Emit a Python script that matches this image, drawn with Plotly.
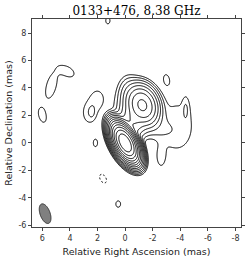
import numpy as np
import plotly.graph_objects as go

title_text = "0133+476, 8.38 GHz"
x_label = "Relative Right Ascension (mas)"
y_label = "Relative Declination (mas)"

x_tick_vals = [6, 4, 2, 0, -2, -4, -6, -8]
x_tick_text = ["6", "4", "2", "0", "-2", "-4", "-6", "-8"]
y_tick_vals = [8, 6, 4, 2, 0, -2, -4, -6]
y_tick_text = ["8", "6", "4", "2", "0", "-2", "-4", "-6"]

# Brightness model components (relative to the lowest contour level)
comp_x = [0.0, -1.25, -0.5, -0.6, -2.0, -0.2, -3.8, -4.4, 2.6, 2.0, 2.4, -2.6, 5.35, 4.2, 6.0, -3.0, 2.15, 0.5, 1.25, 1.6]
comp_y = [0.0, 2.75, 1.5, 2.7, 1.3, 3.9, 1.2, 2.5, 2.2, 3.2, 2.2, -1.0, 4.15, 5.2, 2.0, 4.6, 0.0, -4.45, 8.9, -2.6]
comp_peak = [8000, 150, 25, 4.0, 2.0, 2.5, 1.6, 1.4, 1.6, 1.5, 1.0, 1.5, 1.7, 1.6, 1.5, 1.5, 1.5, 1.5, 1.5, -1.5]
comp_maj = [1.45, 1.6, 1.4, 2.0, 2.2, 1.5, 3.6, 1.4, 1.6, 1.4, 0.7, 1.4, 2.1, 1.3, 1.3, 0.9, 0.7, 0.6, 0.6, 0.9]
comp_min = [0.72, 1.2, 0.9, 1.8, 1.4, 1.0, 2.4, 0.4, 1.0, 1.0, 0.4, 0.6, 0.8, 0.8, 0.65, 0.5, 0.4, 0.45, 0.4, 0.55]
comp_pa = [28, 20, 30, 10, 60, 0, 0, 0, 0, 0, 0, 0, -15, 60, 15, 10, 0, 0, 0, 30]

# Contour levels: lowest level x 2^n
n_levels = 14

# Restoring beam
beam_x, beam_y = 5.8, -5.15
beam_maj, beam_min, beam_pa = 1.5, 0.72, 20

xs = np.linspace(7.0, -8.6, 320)
ys = np.linspace(-6.3, 9.3, 320)
X, Y = np.meshgrid(xs, ys)
img = np.zeros_like(X)
for cx, cy, pk, mj, mn, pa in zip(comp_x, comp_y, comp_peak, comp_maj, comp_min, comp_pa):
    t = np.radians(pa)
    dx, dy = X - cx, Y - cy
    u = dx * np.sin(t) + dy * np.cos(t)
    v = dx * np.cos(t) - dy * np.sin(t)
    img += pk * np.exp(-4 * np.log(2) * (u**2 / mj**2 + v**2 / mn**2))

zpos = np.log2(np.clip(img, 1e-6, None))
zneg = np.log2(np.clip(-img, 1e-6, None))

black = [[0, "black"], [1, "black"]]
fig = go.Figure()
fig.add_trace(go.Contour(
    x=xs, y=ys, z=zpos, showscale=False, colorscale=black,
    contours=dict(coloring="lines", start=0, end=n_levels - 1, size=1),
    line=dict(width=1, color="black"), hoverinfo="skip"))
fig.add_trace(go.Contour(
    x=xs, y=ys, z=zneg, showscale=False, colorscale=black,
    contours=dict(coloring="lines", start=0, end=0.5, size=1),
    line=dict(width=1, color="black", dash="2px,2px"), hoverinfo="skip"))

th = np.linspace(0, 2 * np.pi, 80)
pa = np.radians(beam_pa)
a, b = beam_maj / 2, beam_min / 2
u, v = a * np.cos(th), b * np.sin(th)
ex = beam_x + u * np.sin(pa) + v * np.cos(pa)
ey = beam_y + u * np.cos(pa) - v * np.sin(pa)
path = "M " + " L ".join(f"{px:.4f},{py:.4f}" for px, py in zip(ex, ey)) + " Z"
fig.add_shape(type="path", path=path, xref="x", yref="y",
              fillcolor="#808080", line=dict(color="#333333", width=1))

axis_common = dict(showgrid=False, zeroline=False, showline=True, linecolor="#444444",
                   linewidth=1, mirror="ticks", ticks="outside", ticklen=3, automargin=False,
                   tickcolor="#444444", tickfont=dict(family="DejaVu Sans", size=8, color="#333333"))
fig.update_xaxes(range=[6.75, -8.4], tickvals=x_tick_vals, ticktext=x_tick_text,
                 title=dict(text=x_label, font=dict(family="DejaVu Sans", size=9.5, color="#222222"), standoff=6),
                 **axis_common)
fig.update_yaxes(range=[-6.12, 9.02], tickvals=y_tick_vals, ticktext=y_tick_text,
                 title=dict(text=y_label, font=dict(family="DejaVu Sans", size=9.5, color="#222222"), standoff=4),
                 **axis_common)
fig.update_layout(
    width=249, height=260,
    margin=dict(l=32, r=8, t=19, b=33, autoexpand=False),
    paper_bgcolor="white", plot_bgcolor="white",
    title=dict(text=title_text, font=dict(family="DejaVu Serif", size=12, color="black"),
               x=0.548, xanchor="center", y=0.958, yanchor="middle", automargin=False),
    showlegend=False)
fig.write_html("out.html", config={"displayModeBar": False},
               post_script="document.body.style.margin='0';document.body.style.padding='0';")
